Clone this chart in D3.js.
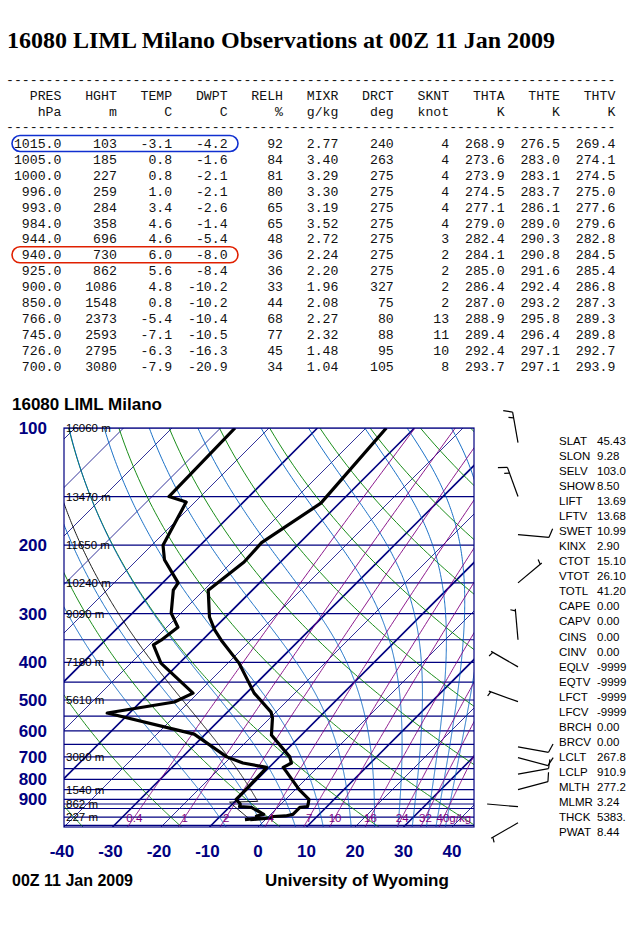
<!DOCTYPE html>
<html><head><meta charset="utf-8">
<script src="https://cdn.jsdelivr.net/npm/d3@7"></script>
<style>body{margin:0;background:#fff}</style>
</head><body>
<svg id="c" width="640" height="950"></svg>
<script>
// sounding table (lowest levels)
const columns = ["PRES","HGHT","TEMP","DWPT","RELH","MIXR","DRCT","SKNT","THTA","THTE","THTV"];
const units = ["hPa","m","C","C","%","g/kg","deg","knot","K","K","K"];
const rows = [
  ["1015.0","103","-3.1","-4.2","92","2.77","240","4","268.9","276.5","269.4"],
  ["1005.0","185","0.8","-1.6","84","3.40","263","4","273.6","283.0","274.1"],
  ["1000.0","227","0.8","-2.1","81","3.29","275","4","273.9","283.1","274.5"],
  ["996.0","259","1.0","-2.1","80","3.30","275","4","274.5","283.7","275.0"],
  ["993.0","284","3.4","-2.6","65","3.19","275","4","277.1","286.1","277.6"],
  ["984.0","358","4.6","-1.4","65","3.52","275","4","279.0","289.0","279.6"],
  ["944.0","696","4.6","-5.4","48","2.72","275","3","282.4","290.3","282.8"],
  ["940.0","730","6.0","-8.0","36","2.24","275","2","284.1","290.8","284.5"],
  ["925.0","862","5.6","-8.4","36","2.20","275","2","285.0","291.6","285.4"],
  ["900.0","1086","4.8","-10.2","33","1.96","327","2","286.4","292.4","286.8"],
  ["850.0","1548","0.8","-10.2","44","2.08","75","2","287.0","293.2","287.3"],
  ["766.0","2373","-5.4","-10.4","68","2.27","80","13","288.9","295.8","289.3"],
  ["745.0","2593","-7.1","-10.5","77","2.32","88","11","289.4","296.4","289.8"],
  ["726.0","2795","-6.3","-16.3","45","1.48","95","10","292.4","297.1","292.7"],
  ["700.0","3080","-7.9","-20.9","34","1.04","105","8","293.7","297.1","293.9"]
];

// profiles for the diagram
const tempP = [1015,1005,1000,996,993,984,944,940,925,900,850,766,745,726,700,615,556,537,480,402,351,330,306,261,221,197,156,100];
const tempT = [-3.1,0.8,0.8,1.0,3.4,4.6,4.6,6.0,5.6,4.8,0.8,-5.4,-7.1,-6.3,-7.9,-16.2,-19.5,-21.0,-28.4,-37.7,-46.1,-49.6,-53.3,-59.1,-57.5,-57.9,-53.8,-55.8];
const dewP = [1015,1005,1000,996,993,984,944,940,925,900,850,766,745,726,700,612,540,506,480,402,361,351,325,299,261,250,218,200,155,150,100];
const dewT = [-4.2,-1.6,-2.1,-2.1,-2.6,-1.4,-5.4,-8.0,-8.4,-10.2,-10.2,-10.4,-10.5,-16.3,-20.9,-32.3,-54.6,-43.0,-41.0,-53.8,-59.1,-58.5,-57.7,-62.0,-66.3,-66.8,-74.4,-77.7,-81.8,-86.5,-87.0];

const pTicks = [100,200,300,400,500,600,700,800,900];
const tTicks = [-40,-30,-20,-10,0,10,20,30,40];
const heightP = [100,150,200,250,300,400,500,700,850,925,1000];
const heightLbl = ["16060 m","13470 m","11650 m","10240 m","9090 m","7180 m","5610 m","3080 m","1540 m","862 m","227 m"];
const mixW = [0.4,1,2,4,7,10,16,24,32,40];
const mixLbl = ["0.4","1","2","4","7","10","16","24","32","40g/kg"];
const dryThetaC = d3.range(-80, 221, 20);
const moistT = [-10,-2,5,11,17,22,27,30,33,35,37];
const thickIso = [-70,-50,-30,-10,10,30];

const windP = [109,150,188,250,350,411,505,660,703,775,850,940,1034];
const windDir = [350,340,95,50,355,300,290,100,105,80,75,275,240];
const windSpd = [15,15,10,5,5,5,5,10,10,10,10,2,5];

const statKey = ["SLAT","SLON","SELV","SHOW","LIFT","LFTV","SWET","KINX","CTOT","VTOT","TOTL","CAPE","CAPV","CINS","CINV","EQLV","EQTV","LFCT","LFCV","BRCH","BRCV","LCLT","LCLP","MLTH","MLMR","THCK","PWAT"];
const statVal = ["45.43","9.28","103.0","8.50","13.69","13.68","10.99","2.90","15.10","26.10","41.20","0.00","0.00","0.00","0.00","-9999","-9999","-9999","-9999","0.00","0.00","267.8","910.9","277.2","3.24","5383.","8.44"];

const svg = d3.select("#c");
const mono = "'Liberation Mono', 'DejaVu Sans Mono', monospace";
const sans = "'Liberation Sans', Arial, sans-serif";

// ---- header & table ----
svg.append("text").attr("x", 7).attr("y", 48)
    .style("font", "bold 24px 'Liberation Serif', serif")
    .text("16080 LIML Milano Observations at 00Z 11 Jan 2009");

const NB = "\u00a0";
function fmtRow(cells) {
    return cells.map(c => NB.repeat(Math.max(0, 7 - c.length)) + c).join("");
}
const tbl = svg.append("g").style("font", "13.2px " + mono).attr("fill", "#111");
const dashes = "-".repeat(77);
tbl.append("text").attr("x", 6).attr("y", 84).text(dashes);
tbl.append("text").attr("x", 6).attr("y", 100).text(fmtRow(columns));
tbl.append("text").attr("x", 6).attr("y", 116).text(fmtRow(units));
tbl.append("text").attr("x", 6).attr("y", 131).text(dashes);
tbl.selectAll(".row").data(rows).enter().append("text")
    .attr("x", 6).attr("y", (d, i) => 148 + i * 15.9)
    .text(d => fmtRow(d));

svg.append("rect").attr("x", 12).attr("y", 135.5).attr("width", 226).attr("height", 16)
    .attr("rx", 8).attr("fill", "none").attr("stroke", "#1030d0").attr("stroke-width", 1.6);
svg.append("rect").attr("x", 12).attr("y", 135.5 + 7 * 15.9).attr("width", 226).attr("height", 16)
    .attr("rx", 8).attr("fill", "none").attr("stroke", "#e02000").attr("stroke-width", 1.6);

// ---- skew-T ----
const pLeft = 64, pRight = 474, pTop = 428, pBottom = 827;
const y = d3.scaleLog().domain([100, 1060]).range([pTop, pBottom]);
const xT = d3.scaleLinear().domain([-40, 45]).range([pLeft, pLeft + 85 * 4.85]);
const sx = (T, p) => xT(T) + (pBottom - y(p));
const line = d3.line().x(d => sx(d[1], d[0])).y(d => y(d[0]));

svg.append("defs").append("clipPath").attr("id", "clip")
    .append("rect").attr("x", pLeft).attr("y", pTop).attr("width", pRight - pLeft).attr("height", pBottom - pTop);
const plot = svg.append("g").attr("clip-path", "url(#clip)");

// isobars
const isobars = d3.range(100, 1051, 50).concat([925]);
plot.selectAll(".isobar").data(isobars).enter().append("line")
    .attr("x1", pLeft).attr("x2", pRight).attr("y1", d => y(d)).attr("y2", d => y(d))
    .attr("stroke", "#000080").attr("stroke-width", 1.2);

// isotherms
plot.selectAll(".iso").data(d3.range(-160, 51, 10)).enter().append("path")
    .attr("d", d => line([[1060, d], [100, d]]))
    .attr("stroke", "#000080").attr("stroke-width", d => thickIso.includes(d) ? 1.6 : 0.8).attr("fill", "none");

const pLevels = d3.range(1060, 99, -5);
// dry adiabats
plot.selectAll(".dry").data(dryThetaC).enter().append("path")
    .attr("d", th => line(pLevels.map(p => [p, (th + 273.15) * Math.pow(p / 1000, 0.2857) - 273.15])))
    .attr("stroke", "#008000").attr("stroke-width", 0.9).attr("fill", "none");

// moist adiabats
function satMix(T, p) {
    const es = 6.112 * Math.exp(17.67 * T / (T + 243.5));
    return 0.622 * es / (p - es);
}
function moistPath(T0, p0, pEnd) {
    const pts = [[p0, T0]];
    let T = T0, p = p0;
    const step = pEnd < p0 ? -2 : 2;
    while ((step < 0 && p > pEnd) || (step > 0 && p < pEnd)) {
        const Tk = T + 273.15, rs = satMix(T, p);
        const dTdp = (287 * Tk + 2.5e6 * rs) / (p * (1004 + 2.5e6 * 2.5e6 * rs * 0.622 / (287 * Tk * Tk)));
        T += dTdp * step; p += step;
        pts.push([p, T]);
    }
    return pts;
}
plot.selectAll(".moist").data(moistT).enter().append("path")
    .attr("d", t => line(moistPath(t, 1000, 1060).reverse().concat(moistPath(t, 1000, 100))))
    .attr("stroke", "#0060c0").attr("stroke-width", 0.9).attr("fill", "none");

// mixing ratio
function tdFromW(w, p) {
    const e = w * p / (622 + w), l = Math.log(e / 6.112);
    return 243.5 * l / (17.67 - l);
}
plot.selectAll(".mix").data(mixW).enter().append("path")
    .attr("d", w => line(pLevels.map(p => [p, tdFromW(w, p)])))
    .attr("stroke", "#800080").attr("stroke-width", 0.9).attr("fill", "none");
svg.selectAll(".mixl").data(mixW).enter().append("text")
    .attr("x", (w, i) => sx(tdFromW(w, 1000), 1000) + (i === mixW.length - 1 ? 10 : 0))
    .attr("y", y(1000) + 5)
    .attr("text-anchor", "middle").attr("fill", "#800080")
    .style("font", "11.5px " + sans)
    .text((w, i) => mixLbl[i]);

// parcel path
const lclP = 910.9, lclT = 267.8 - 273.15;
const parcel = d3.range(1015, lclP, -5).map(p => [p, 268.9 * Math.pow(p / 1000, 0.2857) - 273.15])
    .concat(moistPath(lclT, lclP, 100));
plot.append("path").attr("d", line(parcel)).attr("stroke", "#000").attr("stroke-width", 0.9).attr("fill", "none");

// profiles
plot.append("path").attr("d", line(dewP.map((p, i) => [p, dewT[i]])))
    .attr("stroke", "#000").attr("stroke-width", 3.2).attr("fill", "none").attr("stroke-linejoin", "round");
plot.append("path").attr("d", line(tempP.map((p, i) => [p, tempT[i]])))
    .attr("stroke", "#000").attr("stroke-width", 3.2).attr("fill", "none").attr("stroke-linejoin", "round");

svg.append("rect").attr("x", pLeft).attr("y", pTop).attr("width", pRight - pLeft).attr("height", pBottom - pTop)
    .attr("fill", "none").attr("stroke", "#000080").attr("stroke-width", 1.2);

// height labels
svg.selectAll(".hl").data(heightP).enter().append("text")
    .attr("x", pLeft + 2).attr("y", d => y(d) + 4)
    .style("font", "11.5px " + sans).attr("fill", "#000")
    .text((d, i) => heightLbl[i]);

// axes labels
svg.selectAll(".pl").data(pTicks).enter().append("text")
    .attr("x", 47).attr("y", d => y(d) + 6).attr("text-anchor", "end")
    .attr("fill", "#000080").style("font", "bold 17px " + sans).text(d => d);
svg.selectAll(".tl").data(tTicks).enter().append("text")
    .attr("x", d => xT(d) + (d < 0 ? -2 : 0)).attr("y", 857).attr("text-anchor", "middle")
    .attr("fill", "#000080").style("font", "bold 17px " + sans).text(d => d);

svg.append("text").attr("x", 12).attr("y", 410).style("font", "bold 17px " + sans).text("16080 LIML Milano");
svg.append("text").attr("x", 12).attr("y", 886).style("font", "bold 16px " + sans).text("00Z 11 Jan 2009");
svg.append("text").attr("x", 265).attr("y", 886).style("font", "bold 17px " + sans).text("University of Wyoming");

// wind barbs
const bx = 518, L = 31;
const barbs = svg.append("g").attr("stroke", "#000").attr("stroke-width", 1.2).attr("fill", "none");
windP.forEach((p, i) => {
    const a = windDir[i] * Math.PI / 180;
    const ux = Math.sin(a), uy = -Math.cos(a);
    const by = y(p);
    const tx = bx + ux * L, ty = by + uy * L;
    barbs.append("line").attr("x1", bx).attr("y1", by).attr("x2", tx).attr("y2", ty);
    const px = uy, py = -ux;
    let s = windSpd[i], pos = 0;
    while (s >= 10) {
        const ox = tx - ux * pos, oy = ty - uy * pos;
        barbs.append("line").attr("x1", ox).attr("y1", oy)
            .attr("x2", ox + px * 9 + ux * 3).attr("y2", oy + py * 9 + uy * 3);
        s -= 10; pos += 4;
    }
    if (s >= 5) {
        const ox = tx - ux * (pos + 2), oy = ty - uy * (pos + 2);
        barbs.append("line").attr("x1", ox).attr("y1", oy)
            .attr("x2", ox + px * 5 + ux * 1.5).attr("y2", oy + py * 5 + uy * 1.5);
    }
});

// stats
const st = svg.append("g").style("font", "11.5px " + sans).attr("fill", "#000");
st.selectAll(".k").data(statKey).enter().append("text")
    .attr("x", 559).attr("y", (d, i) => 445 + i * 15.04).text(d => d);
st.selectAll(".v").data(statVal).enter().append("text")
    .attr("x", 597).attr("y", (d, i) => 445 + i * 15.04).text(d => d);
</script>
</body></html>
